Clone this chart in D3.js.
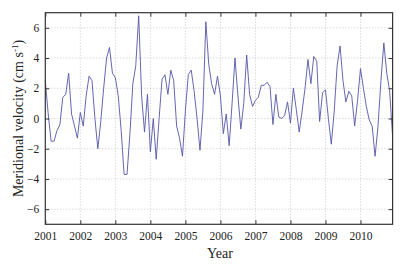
<!DOCTYPE html>
<html><head><meta charset="utf-8">
<script src="https://cdn.jsdelivr.net/npm/d3@7"></script>
<style>body{margin:0;background:#fff}svg text{font-family:"Liberation Serif","Times New Roman",serif !important;fill:#222}</style>
</head><body><svg id="c" width="406" height="268"></svg>
<script>
const startYear = 2001;
const values = [
 2.5, 0.3, -1.5, -1.5, -0.8, -0.4, 1.4, 1.6, 3.0, 0.3, -0.5, -1.3,
 0.4, -0.5, 1.5, 2.8, 2.5, 0.0, -2.0, -0.2, 2.0, 4.0, 4.7, 3.0,
 2.7, 1.5, -0.8, -3.7, -3.7, -1.0, 2.3, 3.5, 6.8, 1.5, -0.9, 1.6,
 -2.2, 0.0, -2.7, 0.0, 2.6, 2.9, 1.6, 3.2, 2.5, -0.5, -1.3, -2.5,
 0.5, 2.9, 3.2, 1.8, 0.0, -2.1, 0.5, 6.4, 3.6, 2.3, 1.6, 2.8,
 1.5, -1.0, 0.3, -1.8, 1.0, 4.0, 1.5, -0.7, 1.0, 4.2, 1.6, 0.8,
 1.2, 1.4, 2.2, 2.2, 2.4, 2.1, -0.4, 1.6, 0.1, 0.0, 0.2, 1.1,
 -0.3, 2.0, 0.6, -0.9, 0.5, 2.0, 3.9, 2.3, 4.1, 3.8, -0.2, 1.7,
 1.9, 0.0, -1.7, 0.5, 3.5, 4.8, 2.5, 1.1, 1.8, 1.5, -0.5, 1.2,
 3.3, 2.0, 0.8, -0.1, -0.5, -2.5, -0.5, 2.5, 5.0, 3.0, 1.8, -1.2
];
const xTicks = [2001,2002,2003,2004,2005,2006,2007,2008,2009,2010];
const yTicks = [-6,-4,-2,0,2,4,6];

const m = {l:45.3, r:392.6, t:12.7, b:224.3};
const svg = d3.select("#c");
const x = d3.scaleLinear().domain([startYear, startYear + 119/12]).range([m.l, m.r]);
const y = d3.scaleLinear().domain([-7, 7]).range([m.b, m.t]);

// grid
const g = svg.append("g");
g.selectAll(".gx").data(xTicks.slice(1)).join("line")
  .attr("x1", d=>x(d)).attr("x2", d=>x(d)).attr("y1", m.t).attr("y2", m.b)
  .attr("stroke", "#bbb").attr("stroke-width", 0.8).attr("stroke-dasharray", "1,2");
g.selectAll(".gy").data(yTicks).join("line")
  .attr("x1", m.l).attr("x2", m.r).attr("y1", d=>y(d)).attr("y2", d=>y(d))
  .attr("stroke", "#bbb").attr("stroke-width", 0.8).attr("stroke-dasharray", "1,2");

// line
const line = d3.line().x((d,i)=>x(startYear + i/12)).y(d=>y(d));
svg.append("path").datum(values).attr("d", line)
  .attr("fill", "none").attr("stroke", "#5555a8").attr("stroke-width", 0.9);

// axes
const FONT = '"Liberation Serif","Times New Roman",serif';
const ax = d3.axisBottom(x).tickValues(xTicks).tickFormat(d3.format("d")).tickSizeInner(-4).tickSizeOuter(0).tickPadding(8);
const axT = d3.axisTop(x).tickValues(xTicks).tickFormat("").tickSizeInner(-4).tickSizeOuter(0);
const ay = d3.axisLeft(y).tickValues(yTicks).tickSizeInner(-4).tickSizeOuter(0).tickPadding(6);
const ayR = d3.axisRight(y).tickValues(yTicks).tickFormat("").tickSizeInner(-4).tickSizeOuter(0);
function style(sel){ sel.attr("font-family", FONT).attr("font-size", 11.5);
  sel.selectAll("path").remove(); sel.selectAll("line").attr("stroke","#333");
  sel.selectAll("text").attr("font-family", FONT).attr("font-size",11.5).attr("fill","#222"); }
svg.append("g").attr("transform",`translate(0,${m.b})`).call(ax).call(style);
svg.append("g").attr("transform",`translate(0,${m.t})`).call(axT).call(style);
svg.append("g").attr("transform",`translate(${m.l},0)`).call(ay).call(style);
svg.append("g").attr("transform",`translate(${m.r},0)`).call(ayR).call(style);

svg.append("rect").attr("x", m.l).attr("y", m.t).attr("width", m.r-m.l).attr("height", m.b-m.t)
  .attr("fill","none").attr("stroke","#333").attr("stroke-width",1.2);

svg.append("text").attr("x", (m.l+m.r)/2 + 1).attr("y", 258).attr("text-anchor","middle")
  .attr("font-family", FONT).attr("font-size", 14).text("Year");
const yl = svg.append("text").attr("transform", `translate(23,${(m.t+m.b)/2}) rotate(-90)`)
  .attr("text-anchor","middle").attr("font-family", FONT).attr("font-size", 14);
yl.append("tspan").text("Meridional velocity (cm s");
yl.append("tspan").attr("dy", -5).attr("font-size", 9).text("-1");
yl.append("tspan").attr("dy", 5).text(")");
</script></body></html>
